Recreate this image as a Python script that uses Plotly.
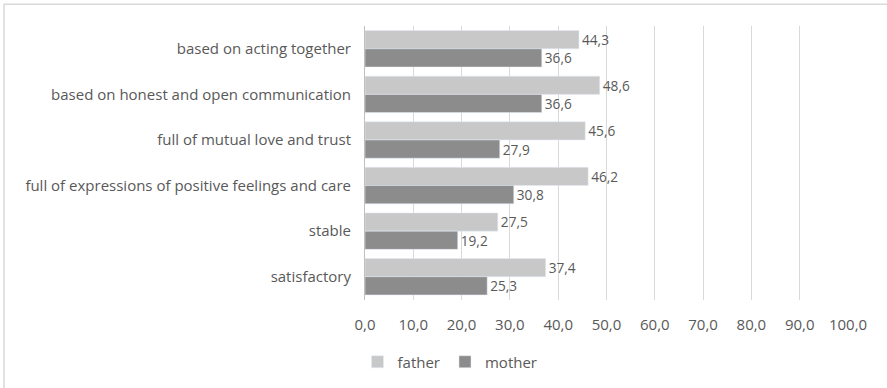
import plotly.graph_objects as go

categories = [
    "based on acting together",
    "based on honest and open communication",
    "full of mutual love and trust",
    "full of expressions of positive feelings and care",
    "stable",
    "satisfactory",
]
father = [44.3, 48.6, 45.6, 46.2, 27.5, 37.4]
mother = [36.6, 36.6, 27.9, 30.8, 19.2, 25.3]
x_ticks = [0, 10, 20, 30, 40, 50, 60, 70, 80, 90, 100]
x_tick_labels = [f"{v:.1f}".replace(".", ",") for v in x_ticks]

FONT = "Open Sans, sans-serif"
TEXT = "#595959"

def fmt(vals):
    return [f"{v:.1f}".replace(".", ",") for v in vals]

fig = go.Figure()
# father first: with a reversed category axis it sits on top in each group
fig.add_trace(go.Bar(
    y=categories, x=father, name="father", orientation="h",
    marker=dict(color="#c8c8c8"),
    text=fmt(father), textposition="outside",
    textfont=dict(size=15, color=TEXT, family=FONT),
    cliponaxis=False,
))
fig.add_trace(go.Bar(
    y=categories, x=mother, name="mother", orientation="h",
    marker=dict(color="#8c8c8c"),
    text=fmt(mother), textposition="outside",
    textfont=dict(size=15, color=TEXT, family=FONT),
    cliponaxis=False,
))

W, H = 887, 388
L, R, T, B = 365, 39, 26, 86
pw, ph = W - L - R, H - T - B

fig.update_layout(
    width=W, height=H,
    margin=dict(l=L, r=R, t=T, b=B),
    paper_bgcolor="white", plot_bgcolor="white",
    barmode="group", bargap=0.2, bargroupgap=0,
    font=dict(family=FONT, size=15, color=TEXT),
    showlegend=True,
    legend=dict(
        orientation="h", xref="container", x=450 / W, xanchor="center",
        yref="container", y=1 - 362 / H, yanchor="middle",
        traceorder="normal",
        font=dict(size=15, color=TEXT, family=FONT),
        itemwidth=30,
    ),
    xaxis=dict(
        range=[0, 100], tickvals=x_ticks, ticktext=x_tick_labels,
        showgrid=True, gridcolor="#d9d9d9", gridwidth=1,
        zeroline=False, showline=False, ticks="",
        ticklabelstandoff=14,
        tickfont=dict(size=15, color=TEXT, family=FONT),
    ),
    yaxis=dict(
        categoryorder="array", categoryarray=categories,
        autorange="reversed",
        showline=True, linecolor="#bfbfbf", linewidth=1,
        ticks="", ticklabelstandoff=10,
        tickfont=dict(size=15, color=TEXT, family=FONT),
    ),
    shapes=[dict(
        type="rect", xref="paper", yref="paper",
        x0=(4 - L) / pw, x1=(892 - L) / pw,
        y0=(H - B - 392) / ph, y1=(H - B - 4) / ph,
        line=dict(color="#d9d9d9", width=1.5),
        fillcolor="rgba(0,0,0,0)", layer="below",
    )],
)

fig.write_html("out.html")
